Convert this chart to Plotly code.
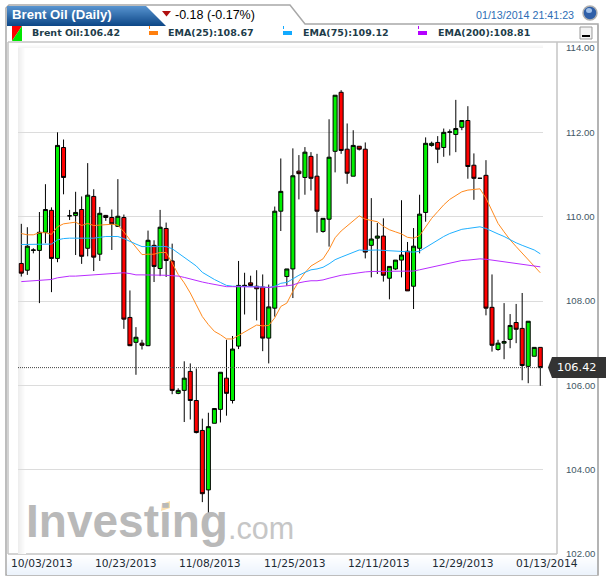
import plotly.graph_objects as go

TITLE = "Brent Oil (Daily)"
CHANGE = "-0.18 (-0.17%)"
TIMESTAMP = "01/13/2014 21:41:23"
DATE_LABELS = ["10/03/2013", "10/23/2013", "11/08/2013", "11/25/2013", "12/11/2013", "12/29/2013", "01/13/2014"]
Y_TICKS = [102, 104, 106, 108, 110, 112, 114]

opens = [108.89,108.73,109.20,109.20,109.63,110.15,109.01,111.64,110.02,110.03,110.17,109.25,110.48,109.11,110.03,109.98,109.77,109.98,107.61,107.02,107.00,106.94,109.32,108.77,109.72,108.95,105.81,105.88,106.33,105.64,104.93,103.52,105.10,105.43,106.17,105.64,106.93,108.35,108.43,108.35,108.33,107.12,107.83,110.13,108.58,108.76,111.08,110.93,111.43,110.96,109.65,109.94,111.55,112.95,111.60,110.96,111.67,111.60,109.32,109.49,109.54,108.54,108.76,108.97,109.18,108.35,109.25,110.10,111.69,111.76,111.64,112.00,111.95,112.12,112.28,111.22,110.91,110.98,107.85,106.85,107.00,107.09,107.49,107.35,106.45,106.69,106.90]
highs = [109.83,109.75,109.25,110.11,110.77,110.22,112.00,111.83,110.16,110.59,110.48,111.27,110.65,110.23,110.04,110.17,110.89,110.05,108.25,107.38,107.08,109.67,109.44,110.16,109.86,109.36,105.93,106.57,106.52,106.40,105.21,105.35,105.45,106.31,107.08,107.17,108.95,108.67,108.60,108.73,108.63,108.39,110.24,111.38,108.76,111.62,111.46,111.65,111.53,111.49,109.96,112.31,112.88,113.00,112.21,112.05,111.67,111.76,110.44,109.85,109.96,108.82,108.97,110.39,109.40,109.73,110.52,111.88,111.78,111.91,112.09,112.07,112.77,112.28,112.62,111.50,110.91,111.34,108.63,107.08,107.95,107.69,107.93,108.19,107.52,106.90,106.90]
lows = [108.58,108.62,109.13,107.95,109.37,108.21,108.92,110.53,109.92,109.09,108.88,109.06,108.71,108.95,109.90,109.21,109.76,107.34,106.93,106.25,106.85,106.93,108.45,108.59,108.57,105.79,105.79,105.13,105.19,104.86,103.23,102.95,105.10,105.12,105.28,105.57,106.86,107.68,108.35,107.54,106.81,106.52,107.63,109.66,108.36,108.07,110.41,110.52,110.62,109.62,109.62,109.29,111.05,111.49,110.78,110.96,111.57,109.01,108.56,108.64,108.46,108.04,108.74,108.56,108.24,107.81,109.13,109.88,111.66,111.27,111.42,111.45,111.53,112.05,110.90,110.40,110.91,107.66,106.80,106.82,106.62,106.88,107.00,106.12,106.05,106.69,105.99]
closes = [108.66,109.30,109.21,109.63,110.17,109.01,111.69,110.93,110.02,110.10,109.06,110.51,109.04,110.08,109.98,109.83,110.01,107.57,106.94,107.14,106.95,109.44,108.82,109.75,108.96,105.88,105.88,106.17,105.64,104.88,103.43,105.02,105.45,106.31,105.81,106.86,108.37,108.37,108.37,108.29,107.12,107.86,110.13,110.60,108.76,110.97,111.02,111.53,110.91,110.13,109.96,111.41,112.88,111.57,111.03,111.69,111.60,109.16,109.47,109.54,108.61,108.82,108.97,109.09,108.24,109.30,110.06,111.74,111.74,111.60,112.00,112.01,112.09,112.28,111.19,110.91,110.91,107.83,106.95,107.00,107.04,107.42,107.33,106.47,107.52,106.90,106.42]
ema25 = [109.60,109.57,109.57,109.62,109.62,109.58,109.76,109.83,109.85,109.87,109.79,109.84,109.79,109.80,109.82,109.82,109.80,109.64,109.45,109.27,109.10,109.11,109.11,109.15,109.15,108.90,108.63,108.43,108.19,107.91,107.63,107.44,107.28,107.20,107.10,107.10,107.18,107.26,107.36,107.43,107.41,107.42,107.60,107.87,107.95,108.23,108.47,108.67,108.83,108.92,109.00,109.22,109.50,109.66,109.78,109.91,110.02,109.94,109.91,109.88,109.77,109.69,109.64,109.59,109.51,109.49,109.55,109.76,109.96,110.12,110.28,110.41,110.49,110.59,110.63,110.65,110.66,110.44,110.12,109.84,109.64,109.45,109.29,109.13,108.97,108.81,108.67]
ema75 = [109.34,109.34,109.34,109.34,109.35,109.35,109.45,109.48,109.49,109.49,109.49,109.49,109.49,109.51,109.53,109.53,109.53,109.48,109.41,109.35,109.29,109.29,109.29,109.29,109.29,109.24,109.14,109.05,108.94,108.83,108.68,108.59,108.51,108.44,108.37,108.35,108.35,108.35,108.34,108.34,108.33,108.32,108.35,108.42,108.44,108.53,108.61,108.68,108.74,108.76,108.80,108.88,108.98,109.04,109.10,109.15,109.21,109.20,109.21,109.21,109.20,109.19,109.18,109.17,109.17,109.16,109.18,109.27,109.37,109.45,109.53,109.60,109.65,109.70,109.72,109.74,109.76,109.72,109.65,109.59,109.53,109.45,109.38,109.32,109.27,109.21,109.12]
ema200 = [108.46,108.47,108.49,108.50,108.51,108.51,108.55,108.57,108.59,108.59,108.60,108.61,108.62,108.63,108.64,108.66,108.67,108.67,108.65,108.62,108.62,108.62,108.62,108.62,108.61,108.60,108.59,108.56,108.52,108.48,108.45,108.42,108.39,108.37,108.34,108.34,108.34,108.34,108.34,108.33,108.33,108.32,108.33,108.34,108.36,108.38,108.43,108.46,108.48,108.48,108.50,108.54,108.58,108.61,108.63,108.65,108.68,108.69,108.70,108.70,108.70,108.70,108.70,108.70,108.70,108.71,108.74,108.77,108.80,108.83,108.86,108.89,108.92,108.96,108.97,108.99,109.00,108.99,108.97,108.96,108.94,108.92,108.90,108.88,108.86,108.84,108.81]
sessions = list(range(len(closes)))
assert all(len(a) == len(closes) for a in [opens, highs, lows, ema25, ema75, ema200]), [len(a) for a in [opens, highs, lows, closes, ema25, ema75, ema200]]

W, H = 606, 580
L, R, T, B = 18, 543, 48, 554
def X(px): return (px - L) / (R - L)
def Y(py): return 1 - (py - T) / (B - T)
def path(pts):
    return "M" + " L".join(f"{X(a):.5f},{Y(b):.5f}" for a, b in pts) + " Z"
def mix(c1, c2, t):
    return "rgb(" + ",".join(str(round(a + (b - a) * t)) for a, b in zip(c1, c2)) + ")"

shapes = []
def poly(pts, fill=None, line=None, lw=1, layer="below"):
    shapes.append(dict(type="path", path=path(pts), xref="paper", yref="paper", layer=layer,
                       fillcolor=fill or "rgba(0,0,0,0)", line=dict(color=line or "rgba(0,0,0,0)", width=lw if line else 0)))
def seg(x0, y0, x1, y1, color, lw=1):
    shapes.append(dict(type="line", xref="paper", yref="paper", layer="below", x0=X(x0), y0=Y(y0), x1=X(x1), y1=Y(y1),
                       line=dict(color=color, width=lw)))

# outer frame with the tab outline
poly([(6, 25), (6, 8), (9, 5), (290, 5), (305, 24), (598, 24), (598, 575), (6, 575)], fill="#ffffff", line="#a8a8a8", lw=1.5)
# blue title tab
for i in range(20):
    yy = 6 + i
    poly([(7, yy), (146 + i, yy), (147 + i, yy + 1), (7, yy + 1)], fill=mix((86, 146, 206), (14, 72, 136), i / 19))
# bottom band
for i in range(20):
    poly([(7, 555 + i), (597, 555 + i), (597, 556 + i), (7, 556 + i)], fill=mix((255, 255, 255), (236, 243, 252), i / 19))
# chart panel frame
seg(8, 42, 598, 42, "#c4c4c4", 1.5)
seg(8, 42, 8, 554, "#c4c4c4", 1.5)
seg(8, 554, 557, 554, "#c4c4c4", 1.5)
seg(557, 42, 557, 554, "#c4c4c4", 1.5)
seg(598, 25, 598, 575, "#b4b4b4", 2)
# soft shading at the panel's left and top edges
for i in range(8):
    poly([(18 + i, 48), (19 + i, 48), (19 + i, 554), (18 + i, 554)], fill=mix((238, 238, 238), (255, 255, 255), i / 7), layer="below")
for i in range(4):
    poly([(18, 44 + i), (543, 44 + i), (543, 45 + i), (18, 45 + i)], fill=mix((255, 255, 255), (244, 244, 244), i / 3))

# red marker for the change
poly([(162, 11), (171, 11), (166.5, 16.5)], fill="#b01010")
# legend swatches
poly([(12, 26), (22, 26), (12, 41)], fill="#ff0000")
poly([(22, 26), (22, 41), (12, 41)], fill="#00e600")
for xs, col in [(149, "#ff7f0e"), (283, "#12aaff"), (418, "#b400ff")]:
    poly([(xs, 31), (xs + 9, 31), (xs + 9, 35), (xs, 35)], fill=col)
    poly([(xs, 26), (xs + 1, 26), (xs + 1, 29), (xs, 29)], fill=col)
# clock ball
shapes.append(dict(type="circle", xref="paper", yref="paper", layer="below", x0=X(583), x1=X(597), y0=Y(20), y1=Y(6),
                   fillcolor="#2f5fa8", line=dict(color="#b0b0b0", width=1.5)))
shapes.append(dict(type="circle", xref="paper", yref="paper", layer="below", x0=X(586), x1=X(592), y0=Y(13), y1=Y(8),
                   fillcolor="#9fc0ea", line=dict(width=0)))
# minimise button
poly([(580, 27), (592, 27), (592, 39), (580, 39)], fill="#f4f4f4", line="#9a9a9a")
poly([(582, 35), (590, 35), (590, 37), (582, 37)], fill="#000000")
# watermark accent
poly([(162, 504), (170, 501), (170, 508), (161, 511)], fill="#fbdfae")
# last-price dotted line and flag
shapes.append(dict(type="line", xref="paper", yref="y", layer="above", x0=0, x1=1, y0=closes[-1], y1=closes[-1],
                   line=dict(color="#444444", width=1, dash="1px,1px")))
poly([(548, 367.5), (552, 357), (606, 357), (606, 378), (552, 378)], fill="#333333", layer="above")

def note(text, px, py, size, color, family="Liberation Sans", anchor="left", bold=False):
    return dict(text=f"<b>{text}</b>" if bold else text, x=X(px), y=Y(py), xref="paper", yref="paper", xanchor=anchor, yanchor="middle",
                showarrow=False, font=dict(size=size, color=color, family=family), borderpad=0, borderwidth=0)

LEG = "#1d3c4a"
annotations = [
    note("Investing", 26, 521, 46, "#b9b9b9", bold=True),
    note(".com", 228, 528, 30.5, "#c6c6c6"),
    note(TITLE, 12, 15, 13.2, "#ffffff", bold=True),
    note(CHANGE, 175, 14.5, 12.5, "#000000"),
    note(TIMESTAMP, 476, 14.5, 10.7, "#2c6db5"),
    note(f"Brent Oil:{closes[-1]:.2f}", 32, 33, 9.5, LEG, "DejaVu Sans", bold=True),
    note(f"EMA(25):{ema25[-1]:.2f}", 168, 33, 9.5, LEG, "DejaVu Sans", bold=True),
    note(f"EMA(75):{ema75[-1]:.2f}", 303, 33, 9.5, LEG, "DejaVu Sans", bold=True),
    note(f"EMA(200):{ema200[-1]:.2f}", 438, 33, 9.5, LEG, "DejaVu Sans", bold=True),
    note(f"{closes[-1]:.2f}", 577, 367.5, 11.3, "#ffffff", "DejaVu Sans", anchor="center"),
]
for lab, cx in zip(DATE_LABELS, [42, 126, 210, 295, 379, 463, 547]):
    annotations.append(note(lab, cx, 563, 10.7, "#1c2a33", "DejaVu Sans", anchor="center"))

fig = go.Figure()
fig.add_trace(go.Candlestick(
    x=sessions, open=opens, high=highs, low=lows, close=closes, name="Brent Oil", whiskerwidth=0,
    increasing=dict(fillcolor="#00f000", line=dict(color="#000000", width=1)),
    decreasing=dict(fillcolor="#ff0000", line=dict(color="#000000", width=1)),
))
for name, vals, col in [("EMA(25)", ema25, "#ff8a1e"), ("EMA(75)", ema75, "#1fb0ff"), ("EMA(200)", ema200, "#b92cff")]:
    fig.add_trace(go.Scatter(x=sessions, y=vals, mode="lines", name=name, line=dict(color=col, width=1)))

fig.update_layout(
    width=W, height=H, autosize=False, showlegend=False, boxgap=0.05,
    margin=dict(l=L, r=W - R, t=T, b=H - B, pad=0),
    paper_bgcolor="#ffffff", plot_bgcolor="rgba(0,0,0,0)",
    shapes=shapes, annotations=annotations,
    font=dict(family="Liberation Sans"),
    xaxis=dict(range=[-0.547, 86.45], showticklabels=False, showgrid=False, zeroline=False, rangeslider=dict(visible=False), ticks=""),
    yaxis=dict(range=[102, 114], side="right", tickmode="array", tickvals=Y_TICKS, tickformat=".2f", showgrid=True,
               gridcolor="#dcdcdc", gridwidth=1.4, zeroline=False, ticks="", ticklabelstandoff=22,
               tickfont=dict(size=9.6, color="#3f5866", family="Liberation Sans")),
)
fig.write_html("out.html", config=dict(displayModeBar=False),
               post_script="document.body.style.margin='0';document.body.style.overflow='hidden';")
